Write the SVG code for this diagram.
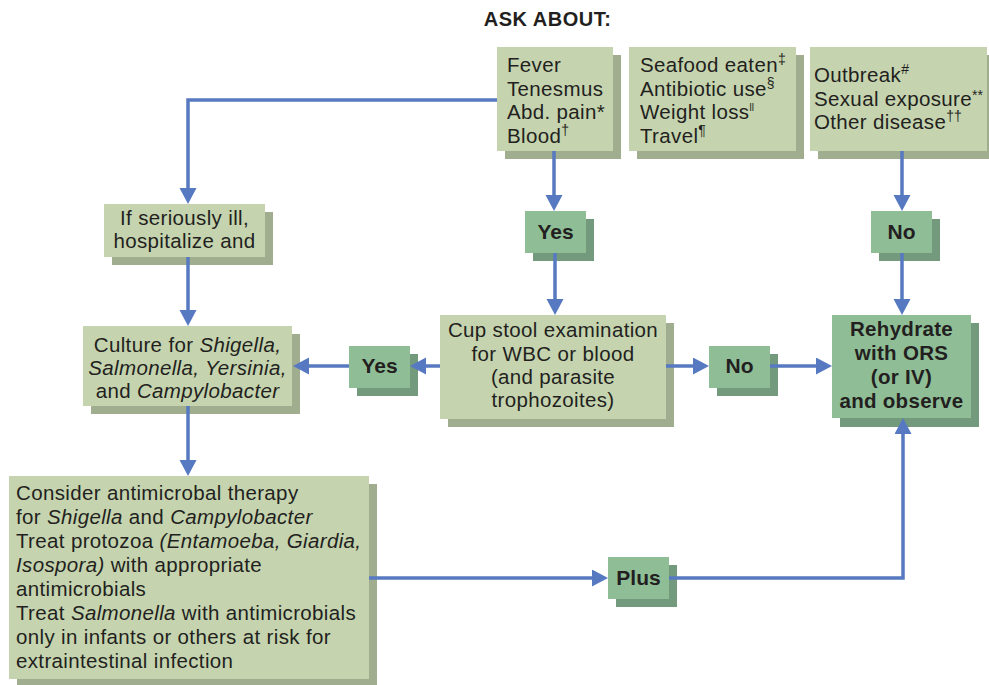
<svg xmlns="http://www.w3.org/2000/svg" width="989" height="685" viewBox="0 0 989 685">
<defs>
<style>
.lt{fill:#c5d4af}
.ls{fill:#a1ad8f}
.dk{fill:#8fbe96}
.ds{fill:#739a7c}
text{font-family:"Liberation Sans",Arial,sans-serif;fill:#231f20}
.t{font-size:20.5px;letter-spacing:0.35px}
.c{text-anchor:middle}
.b{font-size:20.5px;font-weight:bold;letter-spacing:0.3px;text-anchor:middle}
.lb{font-size:21px;font-weight:bold;text-anchor:middle}
.i{font-style:italic}
.sup{font-size:14px;letter-spacing:0}
.conn path{fill:none;stroke:#5779c1;stroke-width:3.5;marker-end:url(#ah)}
</style>
<marker id="ah" markerUnits="userSpaceOnUse" markerWidth="18" markerHeight="18" refX="8" refY="8.5" orient="auto">
<path d="M0,0 L16,8.5 L0,17 z" fill="#5779c1"/>
</marker>
</defs>
<rect width="989" height="685" fill="#ffffff"/>
<text x="547.5" y="26" style="font-size:20px;font-weight:bold;letter-spacing:0.5px;text-anchor:middle">ASK ABOUT:</text>

<g id="ask1">
<rect class="ls" x="505" y="55" width="116" height="104"/>
<rect class="lt" x="497" y="47" width="116" height="104"/>
<text class="t" x="507" y="72">Fever</text>
<text class="t" x="507" y="95.7">Tenesmus</text>
<text class="t" x="507" y="119.4">Abd. pain*</text>
<text class="t" x="507" y="143">Blood<tspan class="sup" dy="-8">†</tspan></text>
</g>

<g id="ask2">
<rect class="ls" x="637" y="55" width="167" height="104"/>
<rect class="lt" x="629" y="47" width="167" height="104"/>
<text class="t" x="640" y="72">Seafood eaten<tspan class="sup" dy="-8">‡</tspan></text>
<text class="t" x="640" y="95.7">Antibiotic use<tspan class="sup" dy="-8">§</tspan></text>
<text class="t" x="640" y="119.4">Weight loss<tspan style="font-size:10px;letter-spacing:0" dy="-8">ll</tspan></text>
<text class="t" x="640" y="143">Travel<tspan class="sup" dy="-8">¶</tspan></text>
</g>

<g id="ask3">
<rect class="ls" x="818" y="55" width="177" height="104"/>
<rect class="lt" x="810" y="47" width="177" height="104"/>
<text class="t" x="814" y="82">Outbreak<tspan class="sup" dy="-8">#</tspan></text>
<text class="t" x="814" y="105.5">Sexual exposure<tspan class="sup" dy="-6">**</tspan></text>
<text class="t" x="814" y="129">Other disease<tspan class="sup" dy="-8">††</tspan></text>
</g>

<g id="hosp">
<rect class="ls" x="112" y="212" width="161" height="53"/>
<rect class="lt" x="104" y="204" width="161" height="53"/>
<text class="t c" x="184.5" y="225">If seriously ill,</text>
<text class="t c" x="184.5" y="248">hospitalize and</text>
</g>

<g id="culture">
<rect class="ls" x="91" y="334" width="209" height="80"/>
<rect class="lt" x="83" y="326" width="209" height="80"/>
<text class="t c" x="187.5" y="352">Culture for <tspan class="i">Shigella,</tspan></text>
<text class="t c i" x="187.5" y="375">Salmonella, Yersinia,</text>
<text class="t c" x="187.5" y="398">and <tspan class="i">Campylobacter</tspan></text>
</g>

<g id="yes-top">
<rect class="ds" x="533" y="219" width="61" height="42"/>
<rect class="dk" x="525" y="211" width="61" height="42"/>
<text class="lb" x="555.5" y="239">Yes</text>
</g>

<g id="cup">
<rect class="ls" x="448" y="323" width="226" height="104"/>
<rect class="lt" x="440" y="315" width="226" height="104"/>
<text class="t c" x="553" y="337">Cup stool examination</text>
<text class="t c" x="553" y="360.5">for WBC or blood</text>
<text class="t c" x="553" y="384">(and parasite</text>
<text class="t c" x="553" y="407">trophozoites)</text>
</g>

<g id="yes-left">
<rect class="ds" x="357" y="354" width="61" height="42"/>
<rect class="dk" x="349" y="346" width="61" height="42"/>
<text class="lb" x="379.5" y="373">Yes</text>
</g>

<g id="no-mid">
<rect class="ds" x="717" y="354" width="61" height="42"/>
<rect class="dk" x="709" y="346" width="61" height="42"/>
<text class="lb" x="739.5" y="373">No</text>
</g>

<g id="no-top">
<rect class="ds" x="879" y="219" width="61" height="42"/>
<rect class="dk" x="871" y="211" width="61" height="42"/>
<text class="lb" x="901.5" y="239">No</text>
</g>

<g id="rehydrate">
<rect class="ds" x="840" y="323" width="139" height="104"/>
<rect class="dk" x="832" y="315" width="139" height="103"/>
<text class="b" x="901.5" y="336">Rehydrate</text>
<text class="b" x="901.5" y="360">with ORS</text>
<text class="b" x="901.5" y="384">(or IV)</text>
<text class="b" x="901.5" y="408">and observe</text>
</g>

<g id="therapy">
<rect class="ls" x="17" y="484" width="360" height="201"/>
<rect class="lt" x="9" y="476" width="360" height="203"/>
<text class="t" x="16" y="500">Consider antimicrobal therapy</text>
<text class="t" x="16" y="524">for <tspan class="i">Shigella</tspan> and <tspan class="i">Campylobacter</tspan></text>
<text class="t" x="16" y="548">Treat protozoa <tspan class="i">(Entamoeba, Giardia,</tspan></text>
<text class="t" x="16" y="572"><tspan class="i">Isospora)</tspan> with appropriate</text>
<text class="t" x="16" y="596">antimicrobials</text>
<text class="t" x="16" y="620">Treat <tspan class="i">Salmonella</tspan> with antimicrobials</text>
<text class="t" x="16" y="644">only in infants or others at risk for</text>
<text class="t" x="16" y="668">extraintestinal infection</text>
</g>

<g id="plus">
<rect class="ds" x="616" y="565" width="61" height="42"/>
<rect class="dk" x="608" y="557" width="61" height="42"/>
<text class="lb" x="638.5" y="585">Plus</text>
</g>

<g id="connectors" class="conn">
<path d="M497,100 H188 V196"/>
<path d="M554,151 V203"/>
<path d="M555,253 V307"/>
<path d="M666,366 H701"/>
<path d="M770,366 H824"/>
<path d="M902,151 V203"/>
<path d="M902,253 V307"/>
<path d="M440,366 H418"/>
<path d="M349,366 H301"/>
<path d="M188,257 V318"/>
<path d="M188,406 V468"/>
<path d="M369,578 H600"/>
<path d="M669,578 H903 V426"/>
</g>
</svg>
